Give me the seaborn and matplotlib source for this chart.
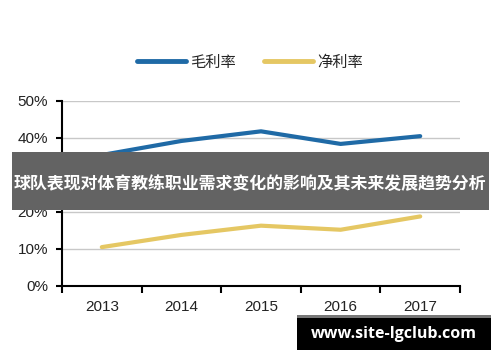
import pandas as pd
import seaborn as sns
import matplotlib.pyplot as plt
from matplotlib.patches import Rectangle
from matplotlib.ticker import FixedLocator, PercentFormatter

# 数据
years = ['2013', '2014', '2015', '2016', '2017']
gross_margin = [0.354, 0.392, 0.418, 0.384, 0.405]   # 毛利率
net_margin = [0.105, 0.138, 0.163, 0.152, 0.188]     # 净利率
series_names = ['毛利率', '净利率']
colors = ['#1f6aa6', '#e5c763']

df = pd.DataFrame({
    'year': years * 2,
    'value': gross_margin + net_margin,
    'kind': [series_names[0]] * 5 + [series_names[1]] * 5,
})

sns.set_theme(style='white')
plt.rcParams['font.family'] = ['Noto Sans CJK SC', 'DejaVu Sans']

fig = plt.figure(figsize=(5, 3.62), dpi=100)
ax = fig.add_axes([0.124, 0.21, 0.796, 0.511])

sns.lineplot(data=df, x='year', y='value', hue='kind', palette=colors,
             linewidth=3, ax=ax, legend=False)

ax.set_xlim(-0.5, 4.5)
ax.set_ylim(0, 0.5)
ax.set_yticks([0, 0.1, 0.2, 0.3, 0.4, 0.5])
ax.yaxis.set_major_formatter(PercentFormatter(1.0, decimals=0))
ax.yaxis.grid(True, color='#c8c8c8', linewidth=1)
ax.set_axisbelow(True)
ax.set_xlabel('')
ax.set_ylabel('')

ax.xaxis.set_minor_locator(FixedLocator([-0.5, 0.5, 1.5, 2.5, 3.5, 4.5]))
ax.tick_params(axis='x', which='major', length=0, pad=10, labelsize=11, labelcolor='#222222')
ax.tick_params(axis='x', which='minor', length=5, width=1.5, color='black', bottom=True)
ax.tick_params(axis='y', which='major', length=4, width=1.5, color='black', left=True,
               labelsize=11, labelcolor='#222222', pad=6)
for lab in ax.get_xticklabels() + ax.get_yticklabels():
    lab.set_family(['Liberation Sans', 'DejaVu Sans'])

for s in ['top', 'right']:
    ax.spines[s].set_visible(False)
for s in ['left', 'bottom']:
    ax.spines[s].set_color('black')
    ax.spines[s].set_linewidth(1.5)

# 图例
handles = [plt.Line2D([], [], color=c, linewidth=3.5, solid_capstyle='round') for c in colors]
fig.legend(handles, series_names, loc='center', bbox_to_anchor=(0.5, 0.828), ncol=2,
           frameon=False, fontsize=11, handlelength=3.2, columnspacing=1.8, handletextpad=0.3)

# 标题横幅
fig.patches.append(Rectangle((12 / 500, 1 - 210 / 362), 477 / 500, 58 / 362,
                             transform=fig.transFigure, facecolor='#636363', edgecolor='none', zorder=5))
fig.text(0.5, 1 - 184 / 362, '球队表现对体育教练职业需求变化的影响及其未来发展趋势分析',
         ha='center', va='center', color='white', fontsize=12.2, fontweight='bold', zorder=6)

# 水印
fig.patches.append(Rectangle((297 / 500, 1 - 318 / 362), 194 / 500, 3 / 362,
                             transform=fig.transFigure, facecolor='#777777', edgecolor='none', zorder=5))
fig.patches.append(Rectangle((297 / 500, 1 - 350 / 362), 194 / 500, 32 / 362,
                             transform=fig.transFigure, facecolor='black', edgecolor='none', zorder=5))
fig.text(394 / 500, 1 - 334 / 362, 'www.site-lgclub.com', ha='center', va='center',
         color='white', fontsize=11.5, fontweight='bold', family=['Open Sans', 'DejaVu Sans'], zorder=6)

fig.savefig('out.png', dpi=100)
